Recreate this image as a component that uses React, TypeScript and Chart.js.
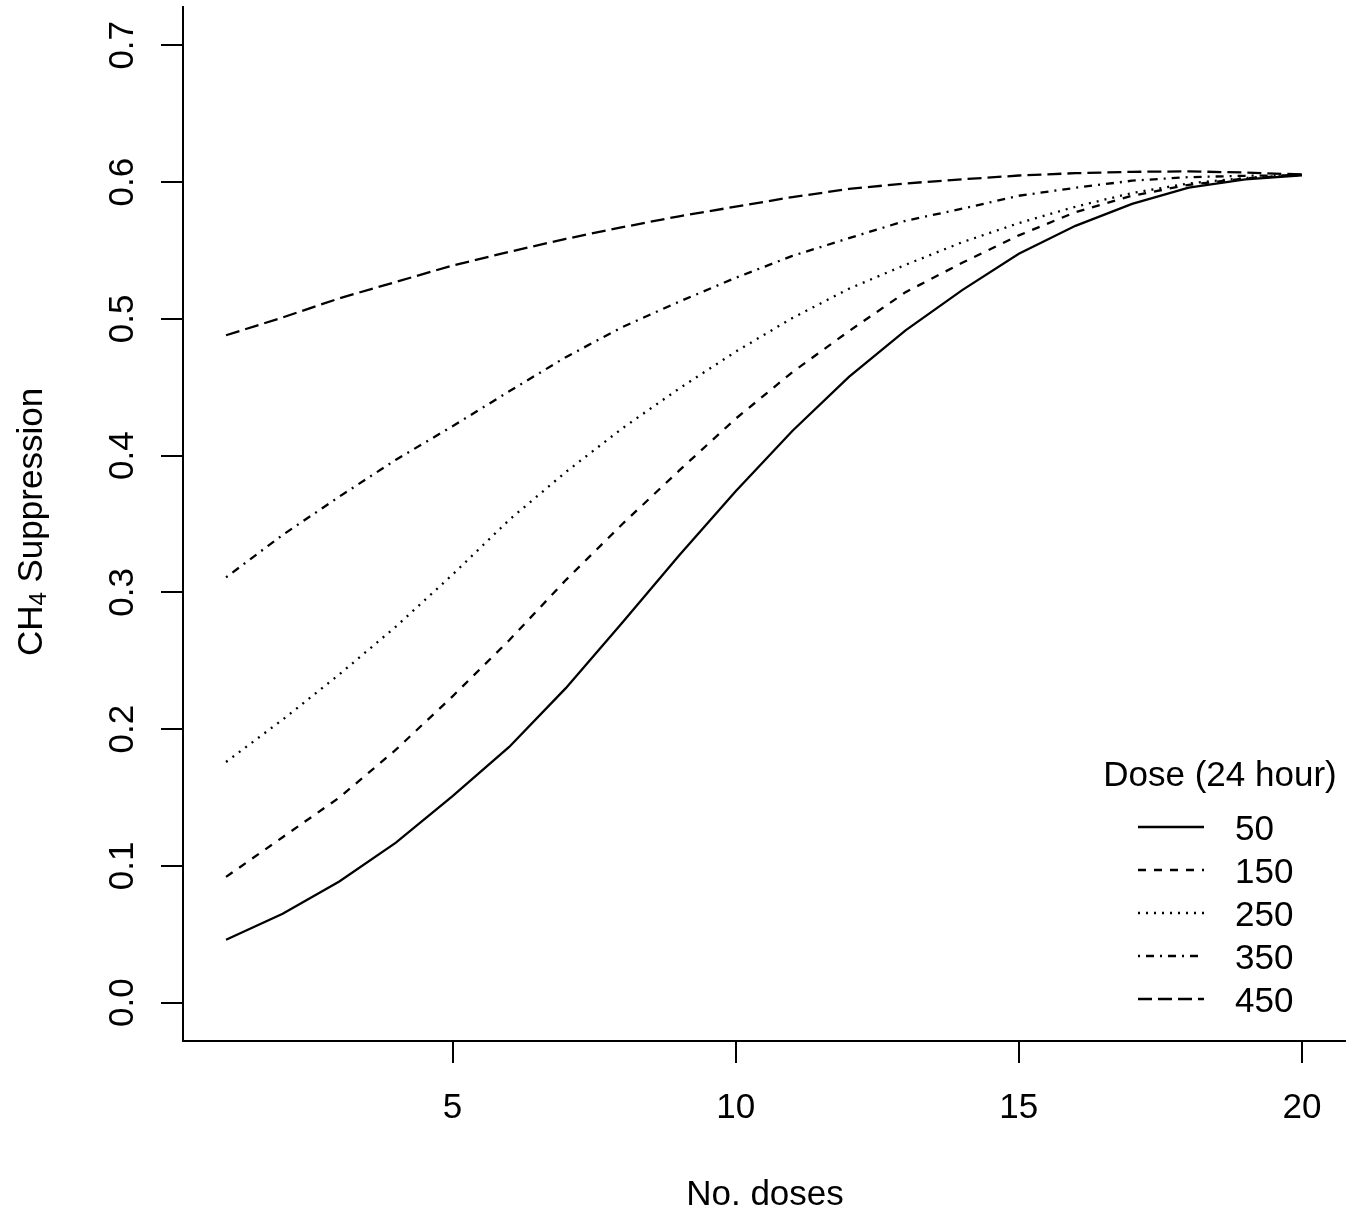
import React, { useEffect, useRef } from "react";
import { Chart, registerables } from "chart.js";

Chart.register(...registerables);

const FONT = '"Liberation Sans", Arial, sans-serif';

const doses = [1, 2, 3, 4, 5, 6, 7, 8, 9, 10, 11, 12, 13, 14, 15, 16, 17, 18, 19, 20];

const supp50 = [0.046, 0.065, 0.0886, 0.117, 0.151, 0.187, 0.23, 0.278, 0.327, 0.374, 0.418, 0.4575, 0.4916, 0.521, 0.5476, 0.568, 0.584, 0.596, 0.602, 0.605];
const supp150 = [0.092, 0.121, 0.15, 0.185, 0.224, 0.265, 0.309, 0.35, 0.389, 0.427, 0.461, 0.491, 0.5195, 0.541, 0.561, 0.578, 0.59, 0.598, 0.6026, 0.6055];
const supp250 = [0.176, 0.207, 0.24, 0.275, 0.313, 0.353, 0.388, 0.42, 0.449, 0.476, 0.5006, 0.522, 0.5395, 0.556, 0.57, 0.582, 0.592, 0.599, 0.603, 0.605];
const supp350 = [0.311, 0.342, 0.37, 0.397, 0.4215, 0.447, 0.472, 0.494, 0.5125, 0.53, 0.546, 0.559, 0.5717, 0.5805, 0.59, 0.5958, 0.601, 0.6036, 0.6046, 0.605];
const supp450 = [0.488, 0.501, 0.515, 0.527, 0.539, 0.549, 0.5585, 0.567, 0.575, 0.582, 0.589, 0.595, 0.599, 0.602, 0.6048, 0.6065, 0.6075, 0.6078, 0.607, 0.6055];

const doseLabels = ["50", "150", "250", "350", "450"];
const seriesValues = [supp50, supp150, supp250, supp350, supp450];
// R line types: solid, dashed, dotted, dotdash, longdash
const dashes: number[][] = [[], [8, 8], [2, 6], [2, 6, 8, 6], [14, 6]];

const xTicks = [5, 10, 15, 20];
const yTicks = [0, 0.1, 0.2, 0.3, 0.4, 0.5, 0.6, 0.7];

const rTextPlugin = {
  id: "rText",
  afterDraw(chart: any) {
    const { ctx, chartArea } = chart;
    const x = chart.scales.x;
    const y = chart.scales.y;
    ctx.save();
    ctx.fillStyle = "#000";
    ctx.strokeStyle = "#000";
    ctx.font = `35px ${FONT}`;
    ctx.textBaseline = "alphabetic";

    // x tick labels
    ctx.textAlign = "center";
    xTicks.forEach((v) => {
      ctx.fillText(String(v), x.getPixelForValue(v), chartArea.bottom + 77);
    });

    // y tick labels, parallel to the axis
    yTicks.forEach((v) => {
      ctx.save();
      ctx.translate(chartArea.left - 50, y.getPixelForValue(v));
      ctx.rotate(-Math.PI / 2);
      ctx.fillText(v.toFixed(1), 0, 0);
      ctx.restore();
    });

    // x title
    ctx.fillText("No. doses", 765, chartArea.bottom + 164);

    // y title with subscript
    ctx.save();
    ctx.translate(42, 522);
    ctx.rotate(-Math.PI / 2);
    ctx.textAlign = "left";
    const big = `35px ${FONT}`;
    const small = `24px ${FONT}`;
    ctx.font = big;
    const w1 = ctx.measureText("CH").width;
    const w3 = ctx.measureText(" Suppression").width;
    ctx.font = small;
    const w2 = ctx.measureText("4").width;
    let cx = -(w1 + w2 + w3) / 2;
    ctx.font = big;
    ctx.fillText("CH", cx, 0);
    cx += w1;
    ctx.font = small;
    ctx.fillText("4", cx, 4);
    cx += w2;
    ctx.font = big;
    ctx.fillText(" Suppression", cx, 0);
    ctx.restore();

    // legend
    ctx.font = big;
    ctx.textAlign = "center";
    ctx.fillText("Dose (24 hour)", 1220, 786);
    ctx.textAlign = "left";
    ctx.lineWidth = 2.3;
    doseLabels.forEach((lab, i) => {
      const ry = 827 + i * 43;
      ctx.setLineDash(dashes[i]);
      ctx.beginPath();
      ctx.moveTo(1138, ry);
      ctx.lineTo(1204, ry);
      ctx.stroke();
      ctx.setLineDash([]);
      ctx.fillText(lab, 1235, ry + 13);
    });
    ctx.restore();
  },
};

const App: React.FC = () => {
  const canvasRef = useRef<HTMLCanvasElement | null>(null);

  useEffect(() => {
    if (!canvasRef.current) return;
    const ctx = canvasRef.current.getContext("2d");
    if (!ctx) return;

    const chart = new Chart(ctx, {
      type: "line",
      data: {
        datasets: seriesValues.map((vals, i) => ({
          label: doseLabels[i],
          data: doses.map((d, j) => ({ x: d, y: vals[j] })),
          borderColor: "#000",
          borderWidth: 2.3,
          borderDash: dashes[i],
          pointRadius: 0,
          tension: 0,
          fill: false,
        })),
      },
      options: {
        responsive: false,
        animation: false,
        devicePixelRatio: 1,
        layout: { padding: { top: 7, right: 11, left: 0, bottom: 0 } },
        plugins: {
          legend: { display: false },
          tooltip: { enabled: false },
        },
        scales: {
          x: {
            type: "linear",
            min: 0.24,
            max: 20.76,
            afterBuildTicks: (s: any) => {
              s.ticks = xTicks.map((value) => ({ value }));
            },
            afterFit: (s: any) => {
              s.height = 178;
            },
            ticks: { display: false },
            grid: {
              drawOnChartArea: false,
              drawTicks: true,
              tickLength: 22,
              color: "#000",
              lineWidth: 2,
            },
            border: { display: true, color: "#000", width: 2 },
          },
          y: {
            type: "linear",
            min: -0.028,
            max: 0.728,
            afterBuildTicks: (s: any) => {
              s.ticks = yTicks.map((value) => ({ value }));
            },
            afterFit: (s: any) => {
              s.width = 183;
            },
            ticks: { display: false },
            grid: {
              drawOnChartArea: false,
              drawTicks: true,
              tickLength: 22,
              color: "#000",
              lineWidth: 2,
            },
            border: { display: true, color: "#000", width: 2 },
          },
        },
      },
      plugins: [rTextPlugin],
    });

    return () => {
      chart.destroy();
    };
  }, []);

  return (
    <div style={{ position: "absolute", left: 0, top: 0, width: 1356, height: 1219, background: "#fff" }}>
      <canvas ref={canvasRef} width={1356} height={1219} style={{ width: 1356, height: 1219 }}></canvas>
    </div>
  );
};

export default App;
